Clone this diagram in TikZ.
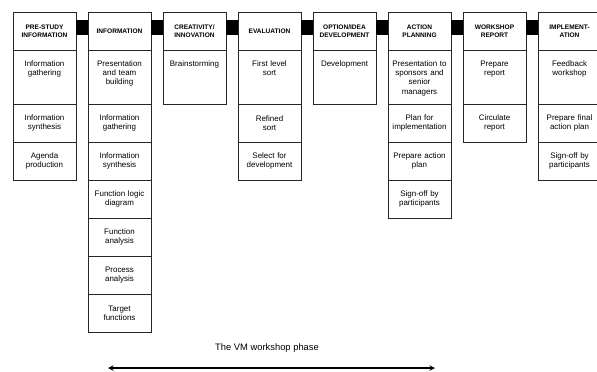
\documentclass[tikz,border=0pt]{standalone}
\usepackage{fontspec}
\setmainfont{Liberation Sans}
\usetikzlibrary{arrows,positioning}
\tikzstyle{headbox} = [rectangle, minimum width=1.89cm, minimum height=1.14cm, text width=1.84cm, inner sep=0pt, outer sep=0pt, align=center, draw=black!85, line width=0.6pt, font=\fontsize{5.6}{6.6}\selectfont\bfseries]
\tikzstyle{taskbox} = [rectangle, minimum width=1.89cm, minimum height=1.14cm, text width=1.84cm, inner sep=0pt, outer sep=0pt, align=center, draw=black!85, line width=0.6pt, font=\fontsize{6.8}{8}\selectfont]
\tikzstyle{firstbox} = [taskbox, minimum height=1.62cm, inner ysep=0.18cm, text height=0.3cm, text depth=0.96cm]
\tikzstyle{linkbar} = [fill=black]
\tikzstyle{phasearrow} = [line width=1.1pt,<->,>=stealth]

\begin{document}
\begin{tikzpicture}[node distance=0.36cm]
\useasboundingbox (0,0) rectangle (17.91,-11.13);
% Phase headers
\node[headbox, anchor=north west] (prestudy) at (0.39,-0.36) {PRE-STUDY\\INFORMATION};
\node[headbox, right=of prestudy] (info) {INFORMATION};
\node[headbox, right=of info] (creativity) {CREATIVITY/\\INNOVATION};
\node[headbox, right=of creativity] (evaluation) {EVALUATION};
\node[headbox, right=of evaluation] (option) {OPTION/IDEA\\DEVELOPMENT};
\node[headbox, right=of option] (action) {ACTION\\PLANNING};
\node[headbox, right=of action] (report) {WORKSHOP\\REPORT};
\node[headbox, right=of report] (implement) {IMPLEMENT-\\ATION};
% Links between phases
\fill[linkbar] ([yshift=-0.24cm]prestudy.north east) rectangle ([yshift=-0.69cm]info.north west);
\fill[linkbar] ([yshift=-0.24cm]info.north east) rectangle ([yshift=-0.69cm]creativity.north west);
\fill[linkbar] ([yshift=-0.24cm]creativity.north east) rectangle ([yshift=-0.69cm]evaluation.north west);
\fill[linkbar] ([yshift=-0.24cm]evaluation.north east) rectangle ([yshift=-0.69cm]option.north west);
\fill[linkbar] ([yshift=-0.24cm]option.north east) rectangle ([yshift=-0.69cm]action.north west);
\fill[linkbar] ([yshift=-0.24cm]action.north east) rectangle ([yshift=-0.69cm]report.north west);
\fill[linkbar] ([yshift=-0.24cm]report.north east) rectangle ([yshift=-0.69cm]implement.north west);
% Pre-study
\node[firstbox, below=0cm of prestudy] (gatherA) {Information\\gathering};
\node[taskbox, below=0cm of gatherA] (synthA) {Information\\synthesis};
\node[taskbox, below=0cm of synthA] (agenda) {Agenda\\production};
% Information
\node[firstbox, below=0cm of info] (teambuild) {Presentation\\and team\\building};
\node[taskbox, below=0cm of teambuild] (gatherB) {Information\\gathering};
\node[taskbox, below=0cm of gatherB] (synthB) {Information\\synthesis};
\node[taskbox, below=0cm of synthB] (logic) {Function logic\\diagram};
\node[taskbox, below=0cm of logic] (funcan) {Function\\analysis};
\node[taskbox, below=0cm of funcan] (procan) {Process\\analysis};
\node[taskbox, below=0cm of procan] (target) {Target\\functions};
% Creativity
\node[firstbox, below=0cm of creativity] (brainstorm) {Brainstorming};
% Evaluation
\node[firstbox, below=0cm of evaluation] (firstsort) {First level\\sort};
\node[taskbox, below=0cm of firstsort] (refined) {Refined\\sort};
\node[taskbox, below=0cm of refined] (select) {Select for\\development};
% Option development
\node[firstbox, below=0cm of option] (develop) {Development};
% Action planning
\node[firstbox, below=0cm of action] (sponsors) {Presentation to\\sponsors and\\senior\\managers};
\node[taskbox, below=0cm of sponsors] (planimpl) {Plan for\\implementation};
\node[taskbox, below=0cm of planimpl] (prepplan) {Prepare action\\plan};
\node[taskbox, below=0cm of prepplan] (signoffA) {Sign-off by\\participants};
% Workshop report
\node[firstbox, below=0cm of report] (prepreport) {Prepare\\report};
\node[taskbox, below=0cm of prepreport] (circulate) {Circulate\\report};
% Implementation
\node[firstbox, below=0cm of implement] (feedback) {Feedback\\workshop};
\node[taskbox, below=0cm of feedback] (finalplan) {Prepare final\\action plan};
\node[taskbox, below=0cm of finalplan] (signoffB) {Sign-off by\\participants};
% Workshop phase
\node[font=\fontsize{8}{10}\selectfont] (phase) at (8.01,-10.44) {The VM workshop phase};
\coordinate (phaseL) at (3.24,-11.04);
\coordinate (phaseR) at (13.05,-11.04);
\draw[phasearrow] (phaseL) -- (phaseR);
\end{tikzpicture}
\end{document}
